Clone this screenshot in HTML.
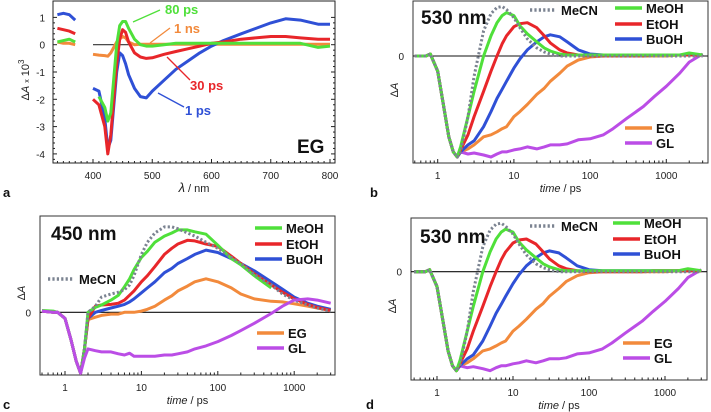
<!DOCTYPE html>
<html><head><meta charset="utf-8"><style>
html,body{margin:0;padding:0;background:#fff;}
svg{display:block;font-family:"Liberation Sans",sans-serif;}
</style></head><body>
<svg id="fig" width="711" height="412" viewBox="0 0 711 412"></svg>
<script>
// ---------- Panel a data (transient spectra, ΔA×10^3) ----------
const lambda = [340,350,360,370,380,400,410,420,425,430,440,445,450,455,460,470,480,490,500,520,540,560,580,600,620,650,700,725,750,780,800];
const spec1ps  = [1.1,1.15,1.1,0.9,null,-1.6,-1.7,-2.7,-3.8,-3.5,-1.0,-0.3,-0.4,-0.7,-1.1,-1.6,-1.9,-1.95,-1.7,-1.3,-0.9,-0.6,-0.3,-0.05,0.15,0.4,0.8,0.95,0.9,0.75,0.75];
const spec30ps = [0.6,0.55,0.5,0.4,null,-2.0,-2.2,-3.0,-4.0,-3.3,-0.7,0.2,0.55,0.45,0.1,-0.3,-0.45,-0.5,-0.48,-0.35,-0.25,-0.15,-0.05,0.05,0.1,0.2,0.3,0.3,0.25,0.2,0.2];
const spec80ps = [0.1,0.15,0.2,0.1,null,null,-1.9,-2.3,-2.8,-2.5,0.0,0.7,0.85,0.85,0.6,0.2,0.0,-0.05,-0.05,0.0,0.05,0.05,0.05,0.05,0.05,0.05,0.05,0.05,0.05,-0.1,-0.05];
const spec1ns  = [0.1,0.05,0.05,0.0,null,-0.35,-0.38,-0.4,-0.42,-0.3,0.1,0.2,0.3,0.25,0.1,0.0,0.02,0.02,0.02,0.02,0.02,0.02,0.02,0.02,0.02,0.02,0.02,0.02,0.02,0.02,0.02];
const aYTicks = [1,0,-1,-2,-3,-4];
const aXTicks = [400,500,600,700,800];

// ---------- Kinetics data (normalized ΔA) ----------
const tGrid = [0.5,0.7,0.8,1,1.2,1.4,1.6,1.8,2,2.5,3,4,5,6,7,8,10,12,15,20,25,30,40,50,70,100,150,200,300,500,700,1000,1500,2000,3000];
const k530MeCN = [0,0,0.02,-0.15,-0.5,-0.8,-0.95,-1,-0.95,-0.6,-0.2,0.25,0.42,0.48,0.49,0.46,0.38,0.28,0.17,0.08,0.04,0.02,0,0,0,0,0,0,0,0,0,0,0,0,0];
const k530MeOH = [0,0,0.02,-0.15,-0.5,-0.8,-0.95,-1,-0.9,-0.6,-0.35,0.0,0.2,0.33,0.4,0.43,0.4,0.3,0.22,0.14,0.08,0.05,0.02,0.01,0.01,0.01,0.01,0.01,0.01,0.01,0.01,0.01,0.01,0.03,0.01];
const k530EtOH = [0,0,0.02,-0.15,-0.5,-0.8,-0.95,-1,-0.93,-0.78,-0.6,-0.35,-0.15,0.0,0.12,0.2,0.29,0.32,0.33,0.28,0.2,0.13,0.06,0.03,0.01,0,0,0,0,0,0.01,0.01,0.01,0.01,0.01];
const k530BuOH = [0,0,0.02,-0.15,-0.5,-0.8,-0.95,-1,-0.95,-0.88,-0.84,-0.7,-0.55,-0.42,-0.33,-0.25,-0.12,-0.03,0.06,0.14,0.19,0.21,0.19,0.14,0.06,0.02,0.01,0.01,0.01,0.01,0.01,0.01,0.01,0.01,0.01];
const k530EG   = [0,0,0.02,-0.15,-0.5,-0.8,-0.95,-1,-0.95,-0.92,-0.88,-0.8,-0.78,-0.75,-0.72,-0.7,-0.6,-0.55,-0.48,-0.38,-0.32,-0.25,-0.17,-0.1,-0.04,-0.01,0,0,0,0,0,0,0.01,0.01,0.01];
const k530GL   = [0,0,0.02,-0.15,-0.5,-0.8,-0.95,-1,-0.95,-0.97,-0.96,-0.98,-1.0,-0.97,-0.95,-0.95,-0.93,-0.92,-0.9,-0.92,-0.9,-0.88,-0.88,-0.87,-0.83,-0.82,-0.78,-0.72,-0.62,-0.5,-0.4,-0.3,-0.17,-0.06,0.02];
const k450MeCN = [0.02,0,0,-0.1,-0.45,-0.8,-1,-0.6,0.0,0.1,0.25,0.3,0.33,0.37,0.45,0.6,0.95,1.15,1.3,1.4,1.4,1.37,1.3,1.25,1.15,1.05,0.9,0.8,0.62,0.45,0.3,0.2,0.12,0.07,0.02];
const k450MeOH = [0.03,0.02,0,-0.1,-0.45,-0.8,-1,-0.6,0.0,0.08,0.12,0.2,0.28,0.42,0.55,0.7,0.9,1.0,1.15,1.25,1.3,1.35,1.35,1.32,1.28,1.1,0.88,0.78,0.6,0.4,null,null,null,null,null];
const k450EtOH = [0.02,0,0,-0.1,-0.45,-0.8,-1,-0.6,-0.1,0.1,0.12,0.13,0.15,0.2,0.28,0.35,0.5,0.6,0.75,0.95,1.05,1.12,1.18,1.17,1.12,1.08,0.92,0.8,0.63,0.45,0.33,0.22,0.13,0.08,0.03];
const k450BuOH = [0.02,0,0,-0.1,-0.45,-0.8,-1,-0.6,-0.1,0.0,0.03,0.07,0.1,0.13,0.17,0.22,0.32,0.4,0.5,0.65,0.72,0.8,0.88,0.95,1.02,0.98,0.88,0.8,0.68,0.5,0.38,0.25,0.15,0.1,0.05];
const k450EG   = [0.02,0,0,-0.1,-0.45,-0.8,-1,-0.6,-0.12,-0.08,-0.05,-0.03,-0.03,0,0,0,0.02,0.05,0.1,0.2,0.27,0.35,0.43,0.5,0.55,0.5,0.4,0.3,0.22,0.18,0.17,0.14,0.1,0.07,0.03];
const k450GL   = [0.02,0,0,-0.1,-0.45,-0.8,-1,-0.75,-0.6,-0.63,-0.65,-0.65,-0.68,-0.7,-0.67,-0.72,-0.72,-0.72,-0.72,-0.7,-0.7,-0.68,-0.65,-0.6,-0.55,-0.48,-0.38,-0.3,-0.18,-0.02,0.1,0.2,0.22,0.2,0.15];
const tTicks = [1,10,100,1000];
const tTickLabels = ["1","10","100","1000"];

const NS="http://www.w3.org/2000/svg";
const svg=document.getElementById('fig');
const C={green:"#4fe03a",red:"#e8262a",blue:"#2f50d6",orange:"#f28a3c",purple:"#bb4de6",gray:"#7b8391"};
function mk(tag,attrs,parent){const e=document.createElementNS(NS,tag);for(const k in attrs)e.setAttribute(k,attrs[k]);(parent||svg).appendChild(e);return e;}
function txt(x,y,s,attrs,parent){const e=mk('text',Object.assign({x:x,y:y},attrs||{}),parent);e.textContent=s;return e;}
function pathFrom(xs,ys,fx,fy){let d="",pen=false;for(let i=0;i<xs.length;i++){if(ys[i]===null){pen=false;continue;}d+=(pen?"L":"M")+fx(xs[i]).toFixed(1)+","+fy(ys[i]).toFixed(1);pen=true;}return d;}

// ---------- Panel a ----------
(function(){
  const g=mk('g',{});
  
  
  const L=53,R=335,T=1,B=163;
  const fx=v=>93+(v-400)*0.5925, fy=v=>44.7-v*27.3;
  mk('rect',{x:L,y:T,width:R-L,height:B-T,fill:"none",stroke:"#222","stroke-width":1},g);
  mk('line',{x1:fx(400),x2:fx(800),y1:fy(0),y2:fy(0),stroke:"#333","stroke-width":1.2},g);
  aYTicks.forEach(v=>{const y=fy(v);
    mk('line',{x1:L,x2:L+4,y1:y,y2:y,stroke:"#222"},g);mk('line',{x1:R,x2:R-4,y1:y,y2:y,stroke:"#222"},g);
    const t=txt(L-8,y+4,String(v),{"font-size":10,"text-anchor":"end",fill:"#222"},g);
    
    for(let k=1;k<5;k++){const ym=y+k*27.3/5;if(ym<B){mk('line',{x1:L,x2:L+2,y1:ym,y2:ym,stroke:"#222"},g);mk('line',{x1:R,x2:R-2,y1:ym,y2:ym,stroke:"#222"},g);}}
  });
  for(let v=340;v<=800;v+=10){const x=fx(v);if(x<L||x>R)continue;const maj=v%100===0;
    mk('line',{x1:x,x2:x,y1:B,y2:B-(maj?4:2),stroke:"#222"},g);}
  aXTicks.forEach(v=>{const t=txt(fx(v),179,String(v),{"font-size":10,"text-anchor":"middle",fill:"#222"},g);
    });
  const series=[[spec1ns,C.orange,'spectrum-1ns'],[spec1ps,C.blue,'spectrum-1ps'],[spec30ps,C.red,'spectrum-30ps'],[spec80ps,C.green,'spectrum-80ps']];
  series.forEach(s=>{const p=mk('path',{d:pathFrom(lambda,s[0],fx,fy),fill:"none",stroke:s[1],"stroke-width":3,"stroke-linejoin":"round"},g);
    });
  const ann=[["80 ps",C.green,165,14,133,22,160,10],["1 ns",C.orange,174,33,150,43,170,28],["30 ps",C.red,190,90,167,57,190,80],["1 ps",C.blue,185,115,158,93,184,107]];
  ann.forEach(a=>{mk('line',{x1:a[4],y1:a[5],x2:a[6],y2:a[7],stroke:a[1],"stroke-width":1.3},g);
    const t=txt(a[2],a[3],a[0],{"font-size":13,"font-weight":"bold",fill:a[1]},g);
    });
  const eg=txt(297,153,"EG",{"font-size":19,"font-weight":"bold",fill:"#111"},g);
  
  const yt=txt(0,0,"",{"font-size":11,fill:"#222",transform:"translate(29,80) rotate(-90)","text-anchor":"middle"},g);
  yt.innerHTML='Δ<tspan font-style="italic">A</tspan> <tspan font-size="7">x</tspan> 10<tspan dy="-5" font-size="8">3</tspan>';
  
  const xt=txt(194,192,"",{"font-size":11,fill:"#222","text-anchor":"middle"},g);
  xt.innerHTML='<tspan font-style="italic" font-size="13">λ</tspan>  /  nm';
  
  const pl=txt(3,197,"a",{"font-size":13,"font-weight":"bold",fill:"#111"},g);
  
})();

// ---------- Kinetic panels ----------
function kinPanel(cfg){
  const g=mk('g',{});
  
  
  const {L,R,T,B,x1,dec,zero,unit}=cfg;
  const fx=t=>x1+Math.log10(t)*dec, fy=v=>zero-v*unit;
  mk('rect',{x:L,y:T,width:R-L,height:B-T,fill:"none",stroke:"#333","stroke-width":1},g);
  mk('line',{x1:L,x2:R,y1:zero,y2:zero,stroke:"#111","stroke-width":1.1},g);
  const zl=txt(L-9,zero+4,"0",{"font-size":10,"text-anchor":"end",fill:"#222"},g);
  
  for(let d=0.1;d<=1000;d*=10){for(let m=1;m<10;m++){const t=d*m;const x=fx(t);if(x<L||x>R)continue;
    mk('line',{x1:x,x2:x,y1:B,y2:B-(m===1?4:2.5),stroke:"#222"},g);}}
  tTicks.forEach((t,i)=>{const e=txt(fx(t),B+16,tTickLabels[i],{"font-size":10,"text-anchor":"middle",fill:"#222"},g);
    });
  cfg.series.forEach(s=>{const p=mk('path',{d:pathFrom(tGrid,s.v,fx,fy),fill:"none",stroke:s.c,"stroke-width":3,"stroke-linejoin":"round","stroke-dasharray":s.dash?"2.2 2.2":"none"},g);
    });
  cfg.legend.forEach(l=>{mk('line',{x1:l.x,x2:l.x+(l.dash?25:27),y1:l.y,y2:l.y,stroke:l.c,"stroke-width":3.5,"stroke-dasharray":l.dash?"2.2 2.2":"none"},g);
    const e=txt(l.x+31,l.y+5,l.n,{"font-size":13,"font-weight":"bold",fill:"#111"},g);
    });
  const w=txt(cfg.wx,cfg.wy,cfg.wl,{"font-size":19,"font-weight":"bold",fill:"#111"},g);
  
  const yt=txt(0,0,"",{"font-size":11,fill:"#222",transform:`translate(${L-15},${cfg.ay}) rotate(-90)`,"text-anchor":"middle"},g);
  yt.innerHTML='Δ<tspan font-style="italic">A</tspan>';
  
  const xt=txt((L+R)/2,B+29,"",{"font-size":11,fill:"#222","text-anchor":"middle"},g);
  xt.innerHTML='<tspan font-style="italic">time</tspan>  /  ps';
  
  const pl=txt(cfg.px,cfg.py,cfg.id,{"font-size":13,"font-weight":"bold",fill:"#111"},g);
  
}
const s530=[{n:"EG",v:k530EG,c:C.orange},{n:"GL",v:k530GL,c:C.purple},{n:"BuOH",v:k530BuOH,c:C.blue},{n:"EtOH",v:k530EtOH,c:C.red},{n:"MeOH",v:k530MeOH,c:C.green},{n:"MeCN",v:k530MeCN,c:C.gray,dash:true}];
const s450=[{n:"EG",v:k450EG,c:C.orange},{n:"BuOH",v:k450BuOH,c:C.blue},{n:"EtOH",v:k450EtOH,c:C.red},{n:"MeOH",v:k450MeOH,c:C.green},{n:"MeCN",v:k450MeCN,c:C.gray,dash:true},{n:"GL",v:k450GL,c:C.purple}];
kinPanel({id:"b",L:413,R:708,T:1,B:163,x1:437.7,dec:76.2,zero:56,unit:101,series:s530,
  legend:[{n:"MeCN",x:530,y:10,c:C.gray,dash:true},{n:"MeOH",x:615,y:8,c:C.green},{n:"EtOH",x:615,y:24,c:C.red},{n:"BuOH",x:615,y:39,c:C.blue},{n:"EG",x:625,y:128,c:C.orange},{n:"GL",x:625,y:143,c:C.purple}],
  wl:"530 nm",wx:421,wy:24,ay:90,px:370,py:197});
kinPanel({id:"c",L:40,R:335,T:216,B:375,x1:65,dec:76.4,zero:312.3,unit:61,series:s450,
  legend:[{n:"MeOH",x:255,y:228,c:C.green},{n:"EtOH",x:255,y:244,c:C.red},{n:"BuOH",x:255,y:259,c:C.blue},{n:"MeCN",x:48,y:279,c:C.gray,dash:true},{n:"EG",x:257,y:333,c:C.orange},{n:"GL",x:257,y:348,c:C.purple}],
  wl:"450 nm",wx:51,wy:240,ay:293,px:3,py:409});
kinPanel({id:"d",L:411,R:707,T:218,B:380,x1:437,dec:76,zero:271.7,unit:99,series:s530,
  legend:[{n:"MeCN",x:530,y:226,c:C.gray,dash:true},{n:"MeOH",x:613,y:223,c:C.green},{n:"EtOH",x:613,y:239,c:C.red},{n:"BuOH",x:613,y:254,c:C.blue},{n:"EG",x:623,y:343,c:C.orange},{n:"GL",x:623,y:358,c:C.purple}],
  wl:"530 nm",wx:420,wy:243,ay:306,px:366,py:409});
</script>
</body></html>
